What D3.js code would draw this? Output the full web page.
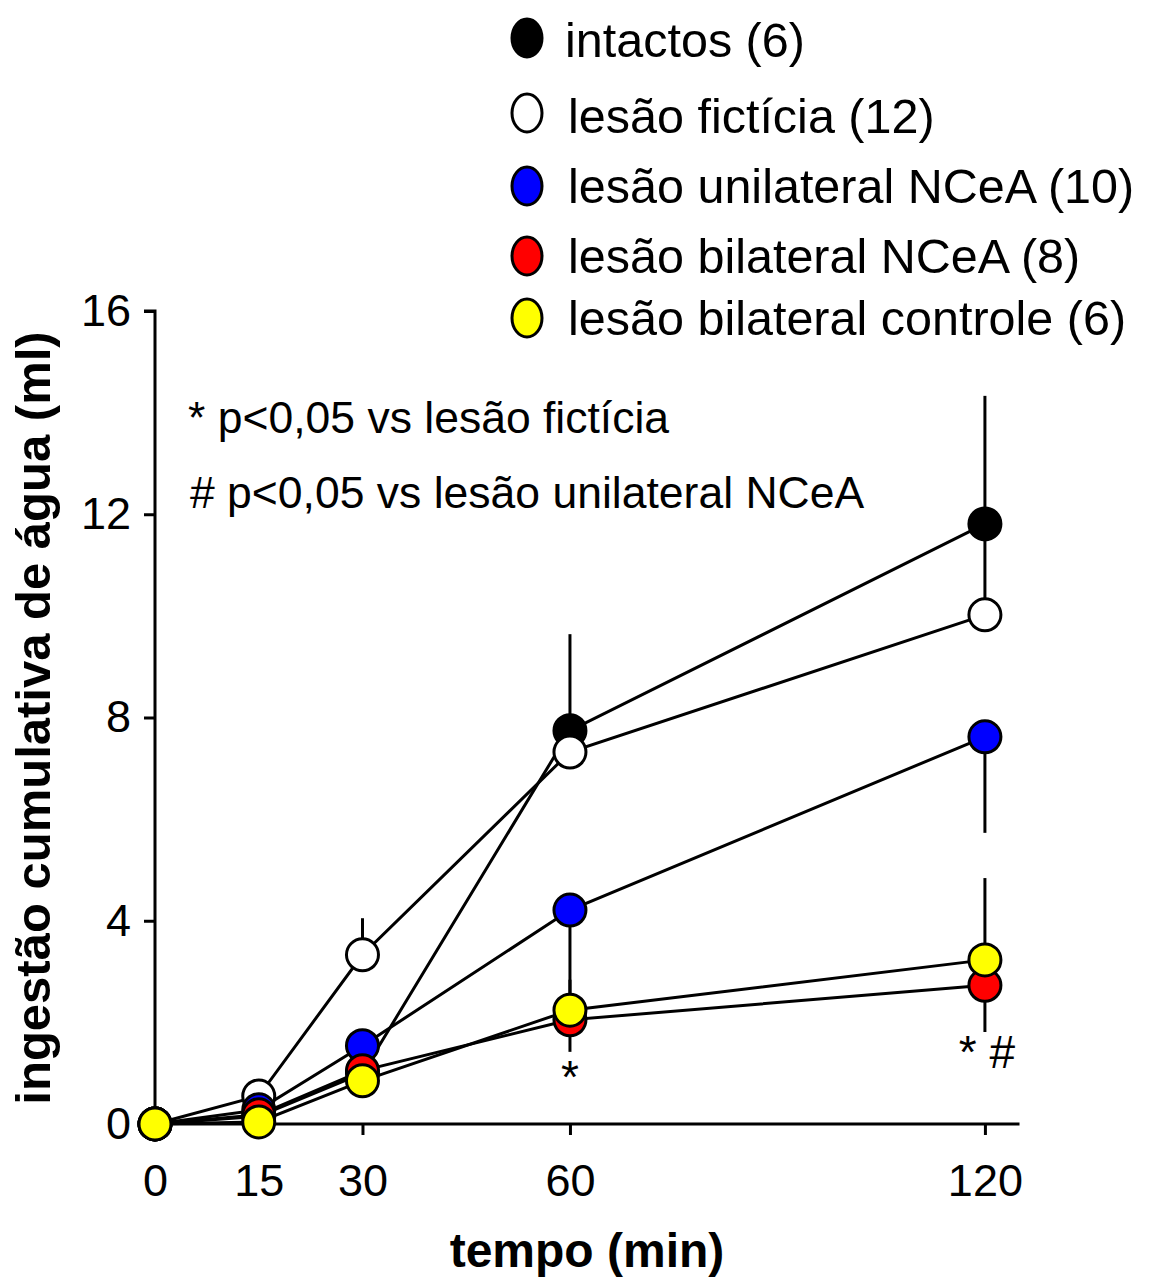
<!DOCTYPE html>
<html><head><meta charset="utf-8">
<script src="https://cdn.jsdelivr.net/npm/d3@7"></script>
<style>body{margin:0;background:#fff}svg{display:block}text{font-family:"Liberation Sans",Arial,sans-serif;fill:#000}</style>
</head><body>
<script>
const times = [0, 15, 30, 60, 120];
const seriesNames = ["intactos (6)", "lesão fictícia (12)", "lesão unilateral NCeA (10)", "lesão bilateral NCeA (8)", "lesão bilateral controle (6)"];
const seriesColors = ["#000000", "#ffffff", "#0000ff", "#ff0000", "#ffff00"];
const intactos = [0, 0.15, 1.0, 7.74, 11.81];
const intactosErr = [0, 0.1, 0.3, 1.9, 2.52];
const ficticia = [0, 0.55, 3.33, 7.32, 10.02];
const ficticiaErr = [0, 0.15, 0.72, 0.7, 1.8];
const unilateral = [0, 0.28, 1.54, 4.21, 7.62];
const unilateralErr = [0, 0.1, 0.4, 1.8, 1.89];
const bilateral = [0, 0.18, 1.05, 2.05, 2.73];
const bilateralErr = [0, 0.08, 0.3, 0.63, 0.92];
const controle = [0, 0.04, 0.85, 2.24, 3.23];
const controleErr = [0, 0.05, 0.3, 0.6, 1.61];
const errDir = [1, 1, -1, -1, 1];
const yTicks = [0, 4, 8, 12, 16];
const xTicks = [0, 15, 30, 60, 120];
const notes = ["* p<0,05 vs lesão fictícia", "# p<0,05 vs lesão unilateral NCeA"];
const sigMarks = [{t: 60, label: "*"}, {t: 120, label: "* #"}];

const values = [intactos, ficticia, unilateral, bilateral, controle];
const errs = [intactosErr, ficticiaErr, unilateralErr, bilateralErr, controleErr];

const W = 1151, H = 1282;
const svg = d3.select("body").append("svg").attr("width", W).attr("height", H);
const x = d3.scaleLinear().domain([0, 125]).range([155, 1019.5]);
const y = d3.scaleLinear().domain([0, 16]).range([1124, 311]);

// axes
const yAxis = svg.append("g").attr("transform", "translate(155,0)")
  .call(d3.axisLeft(y).tickValues(yTicks).tickSize(11).tickPadding(13).tickFormat(d3.format("d")));
const xAxis = svg.append("g").attr("transform", "translate(0,1124)")
  .call(d3.axisBottom(x).tickValues(xTicks).tickSize(11).tickPadding(29).tickFormat(d3.format("d")));
[yAxis, xAxis].forEach(g => {
  g.select(".domain").attr("stroke", "#000").attr("stroke-width", 3);
  g.selectAll(".tick line").attr("stroke", "#000").attr("stroke-width", 3);
  g.selectAll(".tick text").attr("font-size", 45).attr("font-family", "Liberation Sans, Arial, sans-serif").attr("fill", "#000");
});
yAxis.select(".domain").attr("d", `M-11,${y(16)}H0V${y(0)}`);
xAxis.select(".domain").attr("d", `M${x(0)},0H${x(125)}`);

// axis titles
svg.append("text").attr("x", 587).attr("y", 1267).attr("text-anchor", "middle")
  .attr("font-size", 48).attr("font-weight", "bold").text("tempo (min)");
svg.append("text").attr("transform", "translate(50,718) rotate(-90)").attr("text-anchor", "middle")
  .attr("font-size", 49).attr("font-weight", "bold").text("ingestão cumulativa de água (ml)");

// error bars
values.forEach((vals, i) => {
  svg.append("g").selectAll("line").data(times).join("line")
    .attr("x1", d => x(d)).attr("x2", d => x(d))
    .attr("y1", (d, j) => y(vals[j]))
    .attr("y2", (d, j) => y(vals[j] + errDir[i] * errs[i][j]))
    .attr("stroke", "#000").attr("stroke-width", 3);
});
// lines
const line = d3.line().x((d, j) => x(times[j])).y(d => y(d));
values.forEach(vals => {
  svg.append("path").attr("d", line(vals)).attr("fill", "none").attr("stroke", "#000").attr("stroke-width", 3);
});
// markers
values.forEach((vals, i) => {
  svg.append("g").selectAll("circle").data(vals).join("circle")
    .attr("cx", (d, j) => x(times[j])).attr("cy", d => y(d)).attr("r", 16)
    .attr("fill", seriesColors[i]).attr("stroke", "#000").attr("stroke-width", 3);
});

// significance marks
svg.append("text").attr("x", x(sigMarks[0].t)).attr("y", 1093).attr("text-anchor", "middle").attr("font-size", 46).text(sigMarks[0].label);
svg.append("text").attr("x", x(sigMarks[1].t) + 2).attr("y", 1068).attr("text-anchor", "middle").attr("font-size", 46).text(sigMarks[1].label);

// notes
svg.append("text").attr("x", 188).attr("y", 433).attr("font-size", 44.5).text(notes[0]);
svg.append("text").attr("x", 190).attr("y", 508).attr("font-size", 44.5).text(notes[1]);

// legend
const legY = [38, 113, 186, 256, 318];
const legTextY = [57, 133, 203, 273, 335];
seriesNames.forEach((n, i) => {
  svg.append("ellipse").attr("cx", 527).attr("cy", legY[i]).attr("rx", 15).attr("ry", 19)
    .attr("fill", seriesColors[i]).attr("stroke", "#000").attr("stroke-width", 3);
  svg.append("text").attr("x", i === 0 ? 565 : 568).attr("y", legTextY[i]).attr("font-size", 48.5).text(n);
});
</script>
</body></html>
